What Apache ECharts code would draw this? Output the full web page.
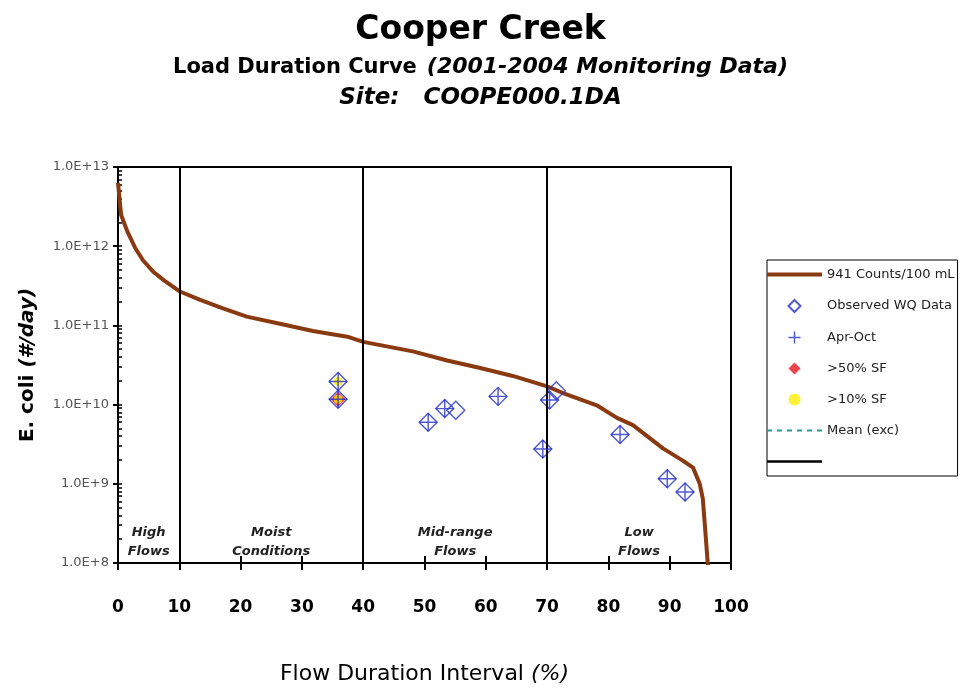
<!DOCTYPE html>
<html>
<head>
<meta charset="utf-8">
<script src="https://cdn.jsdelivr.net/npm/echarts@6/dist/echarts.min.js"></script>
<style>
  html, body { margin: 0; padding: 0; background: #fff; }
  #chart { width: 961px; height: 690px; }
</style>
</head>
<body>
<div id="chart"></div>
<script>
// ---- Data ----
const curveX = [0, 0.5, 1.5, 2.8, 4.1, 5.7, 7.5, 10, 13.4, 17, 21, 26.4, 31.8, 37.4, 40, 48.1, 53.7, 59.1, 64.4, 70, 72.6, 78.1, 81.4, 84, 88.9, 92.2, 93.8, 94.9, 95.4, 95.8, 96.2, 96.6];
const curveY = [6.3e12, 2.5e12, 1.55e12, 9.5e11, 6.6e11, 4.8e11, 3.7e11, 2.7e11, 2.1e11, 1.65e11, 1.29e11, 1.05e11, 8.5e10, 7.2e10, 6.2e10, 4.7e10, 3.6e10, 2.9e10, 2.3e10, 1.7e10, 1.4e10, 9.8e9, 6.8e9, 5.5e9, 2.8e9, 1.95e9, 1.6e9, 1.0e9, 6.5e8, 2.6e8, 1.0e8, 7.0e7];

const obsX = [35.9, 35.9, 50.6, 53.3, 55.1, 62.0, 69.3, 70.4, 71.5, 81.9, 89.6, 92.5];
const obsY = [1.96e10, 1.17e10, 6.0e9, 8.9e9, 8.5e9, 1.27e10, 2.75e9, 1.14e10, 1.5e10, 4.2e9, 1.16e9, 7.9e8];

const aprOctX = [35.9, 35.9, 50.6, 53.3, 62.0, 69.3, 70.4, 81.9, 89.6, 92.5];
const aprOctY = [1.96e10, 1.17e10, 6.0e9, 8.9e9, 1.27e10, 2.75e9, 1.14e10, 4.2e9, 1.16e9, 7.9e8];

const sf50X = [35.9];
const sf50Y = [1.17e10];

const sf10X = [35.9, 35.9];
const sf10Y = [1.96e10, 1.17e10];

const zoneBounds = [0, 10, 40, 70, 100];
const zoneNames = ['High\nFlows', 'Moist\nConditions', 'Mid-range\nFlows', 'Low\nFlows'];
const dividerX = [10, 40, 70];

const seriesNames = ['941 Counts/100 mL', 'Observed WQ Data', 'Apr-Oct', '>50% SF', '>10% SF', 'Mean (exc)', ' '];

// ---- helpers ----
const pairs = (xs, ys) => xs.map((x, i) => [x, ys[i]]);
const minorTicks = [];
for (let e = 8; e < 13; e++) {
  for (let d = 1; d <= 9; d++) minorTicks.push(d * Math.pow(10, e));
}
minorTicks.push(1e13);

const FONT = 'DejaVu Sans';
const BLUE = '#2330c4';
const BROWN = '#8a3a10';
const TEAL = '#2a9a98';
const PLUS = 'path://M9.2,0 H10.8 V9.2 H20 V10.8 H10.8 V20 H9.2 V10.8 H0 V9.2 H9.2 Z';
const LEG_PLUS = 'path://M8.8,0 H11.2 V8.8 H20 V11.2 H11.2 V20 H8.8 V11.2 H0 V8.8 H8.8 Z';
const LEG_DIAMOND = 'path://M5,0 L10,5 L5,10 L0,5 Z';
const LEG_CIRCLE = 'path://M0,5 A5,5 0 1,0 10,5 A5,5 0 1,0 0,5 Z';
const ICON_THICK = 'path://M0,0 H55 V4 H0 Z';
const ICON_BLACK = 'path://M0,0 H55 V2.4 H0 Z';
const ICON_DASH = 'path://M0,0 H5 V2 H0 Z M10,0 H15 V2 H10 Z M20,0 H25 V2 H20 Z M30,0 H35 V2 H30 Z M40,0 H45 V2 H40 Z M50,0 H55 V2 H50 Z';

const chart = echarts.init(document.getElementById('chart'), null, { renderer: 'canvas' });

const option = {
  backgroundColor: '#fff',
  animation: false,
  title: {
    text: 'Cooper Creek',
    left: 'center',
    top: 9,
    itemGap: 5,
    textStyle: { fontFamily: FONT, fontWeight: 'bold', fontSize: 33, color: '#000' },
    subtext: '{a|Load Duration Curve}   {b|(2001-2004 Monitoring Data)}\n{c|Site:   COOPE000.1DA}',
    subtextStyle: {
      rich: {
        a: { fontFamily: FONT, fontWeight: 'bold', fontSize: 21, color: '#000', lineHeight: 31 },
        b: { fontFamily: FONT, fontStyle: 'italic', fontWeight: 'bold', fontSize: 22, color: '#000', lineHeight: 31 },
        c: { fontFamily: FONT, fontStyle: 'italic', fontWeight: 'bold', fontSize: 23, color: '#000', lineHeight: 31 }
      }
    }
  },
  legend: {
    orient: 'vertical',
    left: 767,
    top: 260,
    padding: [8, 3, 8, 0],
    itemWidth: 55,
    itemHeight: 12,
    itemGap: 18,
    symbolKeepAspect: true,
    borderColor: '#000',
    borderWidth: 1,
    textStyle: { fontFamily: FONT, fontSize: 13, color: '#222' },
    data: [
      { name: seriesNames[0], icon: ICON_THICK },
      { name: seriesNames[1], icon: LEG_DIAMOND },
      { name: seriesNames[2], icon: LEG_PLUS },
      { name: seriesNames[3], icon: LEG_DIAMOND },
      { name: seriesNames[4], icon: LEG_CIRCLE },
      { name: seriesNames[5], icon: ICON_DASH },
      { name: seriesNames[6], icon: ICON_BLACK }
    ]
  },
  grid: {
    left: 118, right: 230, top: 167, bottom: 124,
    show: true, borderColor: '#000', borderWidth: 2, backgroundColor: 'transparent'
  },
  xAxis: [
    {
      type: 'value', min: 0, max: 100, interval: 10, position: 'bottom',
      name: '{n|Flow Duration Interval }{i|(%)}',
      nameLocation: 'middle', nameGap: 100,
      nameTextStyle: {
        rich: {
          n: { fontFamily: FONT, fontSize: 22, color: '#000' },
          i: { fontFamily: FONT, fontSize: 22, fontStyle: 'italic', color: '#000' }
        }
      },
      axisLine: { show: true, lineStyle: { color: '#000', width: 2 } },
      axisTick: { show: true, length: 7, lineStyle: { color: '#000', width: 2 } },
      axisLabel: { margin: 36, fontFamily: FONT, fontWeight: 'bold', fontSize: 17, color: '#000' },
      splitLine: { show: false }
    },
    {
      type: 'value', min: 0, max: 100, interval: 10, position: 'bottom',
      axisLine: { show: false },
      axisTick: { show: true, inside: true, length: 7, lineStyle: { color: '#000', width: 2 } },
      axisLabel: { show: false },
      splitLine: { show: false }
    }
  ],
  yAxis: [
    {
      type: 'log', logBase: 10, min: 1e8, max: 1e13, position: 'left',
      name: '{b|E. coli }{i|(#/day)}',
      nameLocation: 'middle', nameGap: 80, nameRotate: 90,
      nameTextStyle: {
        rich: {
          b: { fontFamily: FONT, fontWeight: 'bold', fontSize: 20, color: '#000' },
          i: { fontFamily: FONT, fontWeight: 'bold', fontStyle: 'italic', fontSize: 20, color: '#000' }
        }
      },
      axisLine: { show: true, lineStyle: { color: '#000', width: 2 } },
      axisTick: { show: true, length: 5, lineStyle: { color: '#000', width: 2 } },
      axisLabel: {
        margin: 9, fontFamily: FONT, fontSize: 13, color: '#555',
        formatter: v => Number(v).toExponential(1).toUpperCase()
      },
      splitLine: { show: false }
    },
    {
      type: 'log', logBase: 10, min: 1e8, max: 1e13, position: 'left',
      axisLine: { show: false },
      axisTick: { show: true, inside: true, length: 4, customValues: minorTicks, lineStyle: { color: '#000', width: 1.5 } },
      axisLabel: { show: false },
      splitLine: { show: false }
    }
  ],
  series: [
    {
      name: seriesNames[0], type: 'line', data: pairs(curveX, curveY),
      symbol: 'none', smooth: false, z: 3,
      lineStyle: { color: BROWN, width: 4, join: 'round' },
      itemStyle: { color: BROWN },
      markLine: {
        silent: true, symbol: 'none', label: { show: false },
        lineStyle: { color: '#000', width: 2, type: 'solid' },
        data: dividerX.map(x => ({ xAxis: x }))
      },
      markArea: {
        silent: true,
        itemStyle: { color: 'transparent' },
        label: {
          show: true, position: 'insideBottom', distance: 2,
          fontFamily: FONT, fontSize: 13, fontWeight: 'bold', fontStyle: 'italic',
          color: '#222', lineHeight: 19
        },
        data: zoneNames.map((n, i) => [{ xAxis: zoneBounds[i], name: n }, { xAxis: zoneBounds[i + 1] }])
      }
    },
    {
      name: seriesNames[1], type: 'scatter', data: pairs(obsX, obsY), z: 4,
      symbol: 'diamond', symbolSize: 18,
      itemStyle: { color: 'rgba(255,255,255,0)', borderColor: BLUE, borderWidth: 1.4 }
    },
    {
      name: seriesNames[3], type: 'scatter', data: pairs(sf50X, sf50Y), z: 5,
      symbol: 'diamond', symbolSize: 15,
      itemStyle: { color: '#e8141c' }
    },
    {
      name: seriesNames[4], type: 'scatter', data: pairs(sf10X, sf10Y), z: 6,
      symbol: 'circle', symbolSize: 9,
      itemStyle: { color: '#ffee00' }
    },
    {
      name: seriesNames[2], type: 'scatter', data: pairs(aprOctX, aprOctY), z: 7,
      symbol: PLUS, symbolSize: 18,
      itemStyle: { color: BLUE }
    },
    {
      name: seriesNames[5], type: 'line', data: [], symbol: 'none',
      lineStyle: { color: TEAL, width: 2, type: [5, 5] },
      itemStyle: { color: TEAL }
    },
    {
      name: seriesNames[6], type: 'line', data: [], symbol: 'none',
      lineStyle: { color: '#000', width: 2.5 },
      itemStyle: { color: '#000' }
    }
  ]
};

chart.setOption(option);
</script>
</body>
</html>
